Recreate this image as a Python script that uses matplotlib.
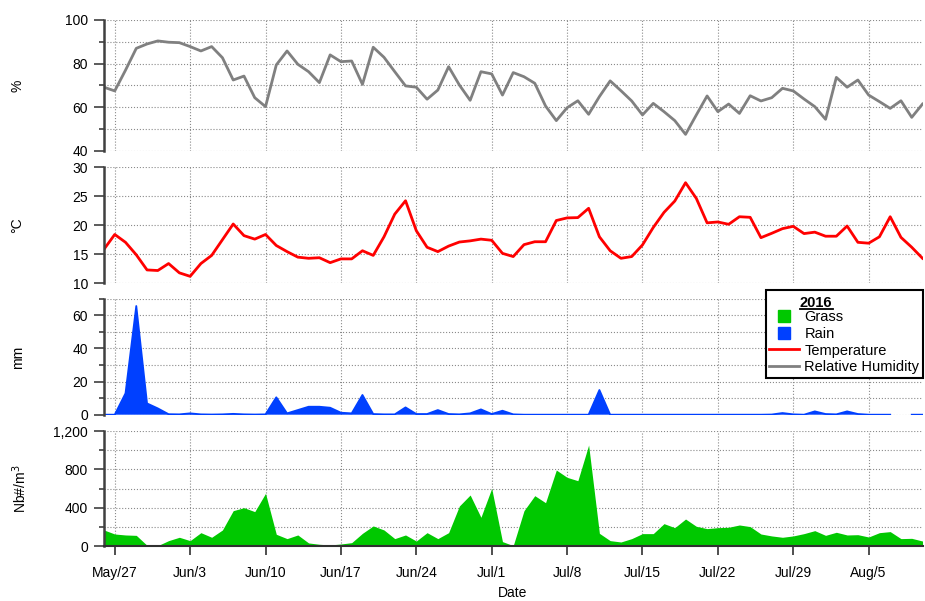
import matplotlib
matplotlib.use('Agg')
import matplotlib.pyplot as plt
import matplotlib.ticker as ticker
from matplotlib.lines import Line2D
import numpy as np
import pandas as pd

plt.rcParams['font.family'] = ['Liberation Sans', 'DejaVu Sans']

# Datos diarios 2016 (26 mayo - 10 agosto)
start_date = '2016-05-26'

humidity = [69.2, 67.5, 77.0, 87.0, 89.0, 90.4, 89.8, 89.6, 87.8, 85.8,
            87.8, 82.7, 72.5, 74.3, 64.4, 60.3, 79.4, 85.8, 79.7, 76.3,
            71.3, 84.0, 80.9, 81.2, 70.5, 87.5, 82.9, 76.3, 69.8, 69.2,
            63.7, 67.9, 78.6, 70.2, 63.2, 76.3, 75.3, 65.6, 75.9, 74.0,
            71.0, 60.6, 53.9, 59.8, 63.0, 56.8, 64.9, 72.1, 67.6, 62.9,
            56.5, 61.8, 58.0, 53.9, 47.6, 56.5, 65.2, 58.0, 61.5, 57.2,
            65.3, 62.9, 64.4, 68.7, 67.5, 63.8, 60.3, 54.5, 73.7, 69.2,
            72.5, 65.6, 62.6, 59.5, 63.0, 55.4, 61.5]

temperature = [15.85, 18.4, 17.05, 14.9, 12.3, 12.2, 13.4, 11.8, 11.2, 13.4,
               14.8, 17.5, 20.2, 18.2, 17.6, 18.4, 16.5, 15.45, 14.5, 14.3,
               14.4, 13.55, 14.2, 14.2, 15.6, 14.8, 18.0, 21.9, 24.2, 19.05,
               16.2, 15.45, 16.4, 17.1, 17.3, 17.6, 17.4, 15.15, 14.6, 16.65,
               17.15, 17.15, 20.8, 21.25, 21.3, 22.9, 18.0, 15.6, 14.3, 14.6,
               16.6, 19.6, 22.2, 24.15, 27.3, 24.6, 20.4, 20.55, 20.15, 21.45,
               21.35, 17.85, 18.6, 19.4, 19.8, 18.55, 18.8, 18.1, 18.1, 19.85,
               17.05, 16.9, 18.0, 21.45, 17.9, 16.2, 14.3]

rain = [0, 0, 12.9, 65.6, 6.8, 3.8, 0.3, 0.2, 0.8, 0.2,
        0.1, 0.2, 0.5, 0.2, 0.1, 0.2, 10.5, 0.8, 2.8, 4.8,
        4.8, 4.2, 1.2, 0.8, 11.9, 0.4, 0.2, 0.2, 4.4, 0.4,
        0.4, 2.8, 0.4, 0.2, 0.8, 3.2, 0.4, 2.4, 0.2, 0,
        0, 0, 0, 0, 0, 0, 14.9, 0, 0, 0,
        0, 0, 0, 0, 0, 0, 0, 0, 0, 0,
        0, 0, 0.1, 1.0, 0.2, 0, 2.0, 0.4, 0.2, 2.0,
        0.4, 0, 0, 0, np.nan, 0, 0]

grass = [170, 128, 118, 114, 10, 7, 59, 94, 59, 142,
         94, 170, 371, 402, 361, 551, 125, 80, 118, 35,
         21, 14, 24, 38, 135, 212, 170, 80, 118, 55,
         142, 80, 142, 420, 534, 302, 603, 49, 7, 371,
         527, 454, 794, 718, 683, 1054, 135, 59, 45, 80,
         132, 132, 236, 194, 284, 208, 184, 194, 198, 222,
         205, 128, 108, 94, 108, 132, 163, 114, 146, 118,
         121, 97, 142, 153, 80, 83, 55]

dates = pd.date_range(start_date, periods=len(humidity), freq='D')
week_ticks = pd.date_range('2016-05-27', '2016-08-05', freq='7D')
week_labels = [d.strftime('%b/') + str(d.day) for d in week_ticks]

green = '#00C800'
blue = '#0040FF'
red = '#FF0000'
gray = '#808080'
axis_color = '#404040'

fig = plt.figure(figsize=(9.25, 6.01), dpi=100)
left, width = 0.1124, 0.8849
ax1 = fig.add_axes([left, 0.7488, width, 0.218])
ax2 = fig.add_axes([left, 0.5286, width, 0.1935])
ax3 = fig.add_axes([left, 0.3100, width, 0.1930])
ax4 = fig.add_axes([left, 0.0910, width, 0.1918])


def style_axis(ax, ylim, major, minor=None):
    ax.set_xlim(dates[0], dates[-1])
    ax.set_ylim(*ylim)
    ax.yaxis.set_major_locator(ticker.MultipleLocator(major))
    if minor:
        ax.yaxis.set_minor_locator(ticker.MultipleLocator(minor))
    ax.set_xticks(week_ticks)
    ax.set_xticklabels(week_labels)
    for s in ['top', 'right', 'bottom']:
        ax.spines[s].set_visible(False)
    ax.spines['left'].set_linewidth(1.8)
    ax.spines['left'].set_color(axis_color)
    ax.grid(True, axis='y', which='both', linestyle=':', color='#8a8a8a', linewidth=0.8)
    ax.grid(True, axis='x', which='major', linestyle=':', color='#8a8a8a', linewidth=0.8)
    ax.set_axisbelow(True)
    ax.tick_params(axis='y', which='major', length=7, width=1.2, color=axis_color,
                   pad=4.5, labelsize=10)
    ax.tick_params(axis='y', which='minor', length=3.5, width=1.2, color=axis_color)
    ax.tick_params(axis='x', length=0, labelbottom=False)


# Humedad relativa
ax1.plot(dates, humidity, color=gray, linewidth=2)
style_axis(ax1, (40, 100), 20, 10)

# Temperatura
ax2.plot(dates, temperature, color=red, linewidth=2)
style_axis(ax2, (10, 30), 5)

# Lluvia
rain_arr = np.array(rain, dtype=float)
ax3.fill_between(dates, rain_arr, 0, color=blue, linewidth=0)
ax3.plot(dates, rain_arr, color=blue, linewidth=1.3)
style_axis(ax3, (0, 70), 20, 10)

# Polen de gramíneas
ax4.fill_between(dates, grass, 0, color=green, linewidth=0)
style_axis(ax4, (0, 1200), 400, 200)
ax4.yaxis.set_major_formatter(ticker.StrMethodFormatter('{x:,.0f}'))
ax4.spines['bottom'].set_visible(True)
ax4.spines['bottom'].set_color('#303030')
ax4.spines['bottom'].set_linewidth(1.5)
ax4.tick_params(axis='x', length=6.5, width=1.3, color=axis_color, pad=8,
                labelbottom=True, labelsize=10)

# Etiquetas de los ejes
fig.text(17 / 925, 1 - 85.5 / 601, '%', rotation=90, ha='center', va='center', fontsize=10)
fig.text(17 / 925, 1 - 225 / 601, '°C', rotation=90, ha='center', va='center', fontsize=10)
fig.text(18 / 925, 1 - 357 / 601, 'mm', rotation=90, ha='center', va='center', fontsize=10)
fig.text(20 / 925, 1 - 488.5 / 601, 'Nb#/m$^3$', rotation=90, ha='center', va='center',
         fontsize=10)
fig.text(513 / 925, 1 - 592.7 / 601, 'Date', ha='center', va='center', fontsize=10)

# Leyenda
handles = [Line2D([], [], marker='s', color=green, linestyle='none', markersize=9),
           Line2D([], [], marker='s', color=blue, linestyle='none', markersize=9),
           Line2D([], [], color=red, linewidth=2),
           Line2D([], [], color=gray, linewidth=2)]
labels = ['Grass', 'Rain', 'Temperature', 'Relative Humidity']
leg = fig.legend(handles, labels, loc='upper right', bbox_to_anchor=(923 / 925, 1 - 290 / 601),
                 borderaxespad=0, fancybox=False, edgecolor='black', framealpha=1,
                 fontsize=10.5, labelspacing=0.18, handlelength=2, handletextpad=0.4,
                 title=' ', title_fontsize=10.5, borderpad=0.25)
leg.get_frame().set_linewidth(1.5)

fig.text(816 / 925, 1 - 307 / 601, '2016', ha='center', va='baseline', fontsize=10.5,
         fontweight='bold', zorder=10)
fig.add_artist(Line2D([800 / 925, 833 / 925], [1 - 309 / 601, 1 - 309 / 601],
                      color='black', linewidth=1.3, transform=fig.transFigure, zorder=10))

fig.savefig('out.png', dpi=100)
